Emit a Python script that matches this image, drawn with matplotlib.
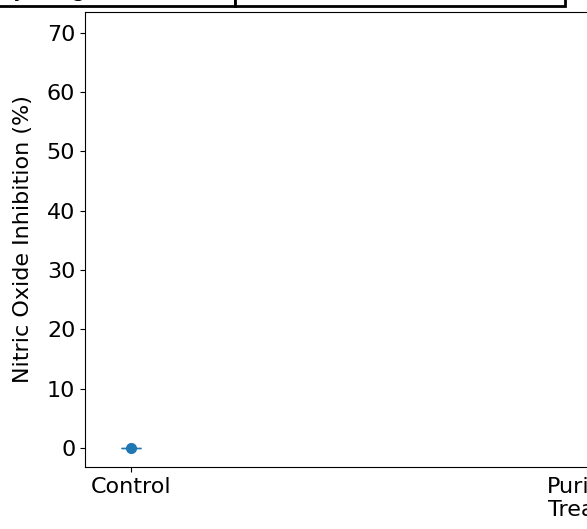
import matplotlib
matplotlib.use("Agg")
import matplotlib.pyplot as plt
import numpy as np

# data (only the Control group is visible in the cropped original;
# the other groups' points fall outside the crop, so they are left empty)
groups = ["Control", "Purified\nTreated", "Crude\nExtract"]
inhibition = [0.0, np.nan, np.nan]
inhibition_sd = [0.0, np.nan, np.nan]
table_text = [["Dry weight (%)", "Result"]]

fig = plt.figure(figsize=(5.87, 5.29), dpi=100)
# axes keeps going past the right edge, like the cropped original
ax = fig.add_axes([85 / 587, 62 / 529, 1009 / 587, 455 / 529])

ax.errorbar(range(len(groups)), inhibition, yerr=inhibition_sd,
            fmt='o', color='tab:blue', markersize=7, capsize=7)
ax.set_xticks(range(len(groups)))
ax.set_xticklabels(groups, fontsize=16)
ax.tick_params(axis='y', labelsize=16)
ax.set_xlim(-0.1, 2.1)
ax.set_ylim(-3.2, 73.5)
ax.set_yticks(range(0, 80, 10))
ax.set_ylabel("Nitric Oxide Inhibition (%)", fontsize=16, labelpad=10)

# table sitting on top of the axes, mostly cut off by the figure edge
tbl = ax.table(cellText=table_text, cellLoc='center',
               bbox=[-0.178, 1.0132, 0.654, 0.065])
tbl.auto_set_font_size(False)
tbl.set_fontsize(16)
for cell in tbl.get_celld().values():
    cell.set_linewidth(2)
    cell.set_clip_on(False)

fig.savefig("out.png", dpi=100)
